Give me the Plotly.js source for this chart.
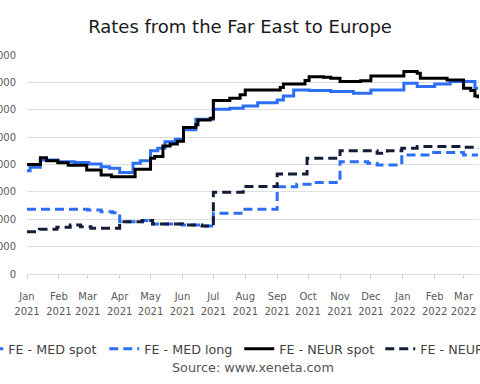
<!DOCTYPE html>
<html>
<head>
<meta charset="utf-8">
<script src="https://cdn.plot.ly/plotly-3.0.1.min.js"></script>
<style>
  html, body { margin: 0; padding: 0; width: 480px; height: 384px; overflow: hidden; background: #fff; }
  #chart { position: absolute; left: -120px; top: 0; width: 720px; height: 384px; }
</style>
</head>
<body>
<div id="chart"></div>
<script>
// ---- data (USD per FEU) ----
var seriesNames = ["FE - MED spot", "FE - MED long", "FE - NEUR spot", "FE - NEUR long"];

var medSpotDates = ["2021-01-01","2021-01-04","2021-01-14","2021-01-31","2021-02-16","2021-03-02","2021-03-14","2021-03-22","2021-04-01","2021-04-14","2021-04-21","2021-05-01","2021-05-08","2021-05-15","2021-05-25","2021-06-02","2021-06-14","2021-07-01","2021-07-17","2021-07-30","2021-08-13","2021-09-01","2021-09-07","2021-09-17","2021-10-02","2021-10-23","2021-11-14","2021-12-01","2022-01-02","2022-01-15","2022-02-01","2022-02-16","2022-03-12","2022-03-15"];
var medSpotVals  = [7550,7800,8330,8210,8140,8040,7840,7730,7410,8090,8280,9010,9190,9670,9850,10530,11310,12040,12110,12280,12520,12720,13010,13450,13400,13330,13210,13450,13940,13690,13890,14060,13570,13570];

var medLongDates = ["2021-01-01","2021-03-01","2021-03-14","2021-03-25","2021-04-01","2021-04-23","2021-05-03","2021-06-01","2021-06-20","2021-07-01","2021-07-30","2021-09-01","2021-09-20","2021-10-05","2021-11-01","2021-11-28","2021-12-07","2021-12-31","2022-01-31","2022-03-01","2022-03-15"];
var medLongVals  = [4730,4680,4550,4480,3820,3900,3650,3580,3510,4430,4730,6380,6550,6680,8210,8090,7970,8700,8870,8700,8700];

var neurSpotDates = ["2021-01-01","2021-01-14","2021-01-20","2021-01-31","2021-02-10","2021-02-28","2021-03-14","2021-03-24","2021-04-16","2021-05-01","2021-05-05","2021-05-13","2021-05-20","2021-05-27","2021-06-02","2021-06-14","2021-06-16","2021-06-28","2021-07-01","2021-07-17","2021-07-27","2021-08-01","2021-09-04","2021-09-07","2021-09-28","2021-10-02","2021-10-16","2021-10-23","2021-11-01","2021-11-21","2021-12-01","2022-01-02","2022-01-15","2022-01-18","2022-02-13","2022-03-01","2022-03-08","2022-03-12","2022-03-15"];
var neurSpotVals  = [8000,8500,8280,8120,7950,7600,7240,7110,7650,8460,8580,9360,9500,9700,10700,10900,11260,11380,12670,12840,13090,13450,13620,13890,14130,14420,14380,14300,14060,14110,14470,14790,14670,14300,14180,13570,13400,13000,12840];

var neurLongDates = ["2021-01-01","2021-01-13","2021-01-30","2021-02-12","2021-02-22","2021-03-04","2021-04-01","2021-04-23","2021-05-03","2021-06-01","2021-06-20","2021-07-01","2021-07-30","2021-09-01","2021-09-30","2021-11-01","2021-12-07","2021-12-17","2021-12-31","2022-01-15","2022-02-28","2022-03-15"];
var neurLongVals  = [3090,3270,3410,3580,3460,3340,3820,3900,3650,3580,3510,5980,6400,7310,8460,9010,8820,9010,9190,9310,9260,9190];

var tickDates  = ["2021-01-01","2021-02-01","2021-03-01","2021-04-01","2021-05-01","2021-06-01","2021-07-01","2021-08-01","2021-09-01","2021-10-01","2021-11-01","2021-12-01","2022-01-01","2022-02-01","2022-03-01"];
var tickMonths = ["Jan","Feb","Mar","Apr","May","Jun","Jul","Aug","Sep","Oct","Nov","Dec","Jan","Feb","Mar"];
var tickYears  = ["2021","2021","2021","2021","2021","2021","2021","2021","2021","2021","2021","2021","2022","2022","2022"];
var yTicks = [0,2000,4000,6000,8000,10000,12000,14000,16000];
var sourceText = "Source: www.xeneta.com";

// ---- styles ----
var BLUE = "#2c6ff4", NAVY = "#141c38", BLACK = "#000000";
var FONT = "DejaVu Sans, sans-serif";
var LEG_W = [91, 90, 96, 96];

function sm(s) { return "<span style='font-size:10px'>" + s + "</span>"; }
var tickText = tickMonths.map(function (m, i) { return sm(m) + "<br>" + sm(tickYears[i]); });

var traces = [
  {x: medSpotDates,  y: medSpotVals,  name: seriesNames[0], line: {color: BLUE,  width: 3, shape: "hv"}},
  {x: medLongDates,  y: medLongVals,  name: seriesNames[1], line: {color: BLUE,  width: 3, shape: "hv", dash: "9px,5px"}},
  {x: neurSpotDates, y: neurSpotVals, name: seriesNames[2], line: {color: BLACK, width: 3, shape: "hv"}},
  {x: neurLongDates, y: neurLongVals, name: seriesNames[3], line: {color: NAVY,  width: 3, shape: "hv", dash: "9px,5px"}}
].map(function (t, i) { t.type = "scatter"; t.mode = "lines"; t.hoverinfo = "skip"; t.legendwidth = LEG_W[i]; return t; });

var layout = {
  width: 720, height: 384,
  margin: {l: 147, r: 121, t: 55, b: 110},
  paper_bgcolor: "#fff", plot_bgcolor: "#fff",
  font: {family: FONT, color: "#555"},
  title: {text: "Rates from the Far East to Europe", x: 0.5, xref: "container", y: 0.93, yanchor: "middle",
          font: {family: FONT, size: 18, color: "#1a1a1a"}},
  xaxis: {
    type: "date", range: ["2021-01-01", "2022-03-16"],
    tickvals: tickDates, ticktext: tickText,
    ticks: "outside", ticklen: 4, tickcolor: "#d0d0d0",
    showgrid: false, showline: false, zeroline: false,
    ticklabelstandoff: 7,
    tickfont: {family: FONT, size: 11.7, color: "#5a5a5a"}
  },
  yaxis: {
    range: [0, 16000], tickvals: yTicks, tickformat: "d",
    showgrid: true, gridcolor: "#dedede", gridwidth: 1,
    zeroline: true, zerolinecolor: "#dedede", zerolinewidth: 1,
    showline: false, ticks: "", ticklabelstandoff: 10,
    tickfont: {family: FONT, size: 10, color: "#5a5a5a"}
  },
  showlegend: true,
  legend: {orientation: "h", x: -0.130, xanchor: "left", y: -0.342, yanchor: "middle",
           font: {family: FONT, size: 12.7, color: "#444"}, bgcolor: "rgba(0,0,0,0)"},
  annotations: [{text: sourceText, xref: "paper", yref: "paper", x: 0.5, y: -0.429,
                 xanchor: "center", yanchor: "middle", showarrow: false,
                 font: {family: FONT, size: 12.8, color: "#555"}}]
};

Plotly.newPlot("chart", traces, layout, {staticPlot: true, displayModeBar: false});
</script>
</body>
</html>
